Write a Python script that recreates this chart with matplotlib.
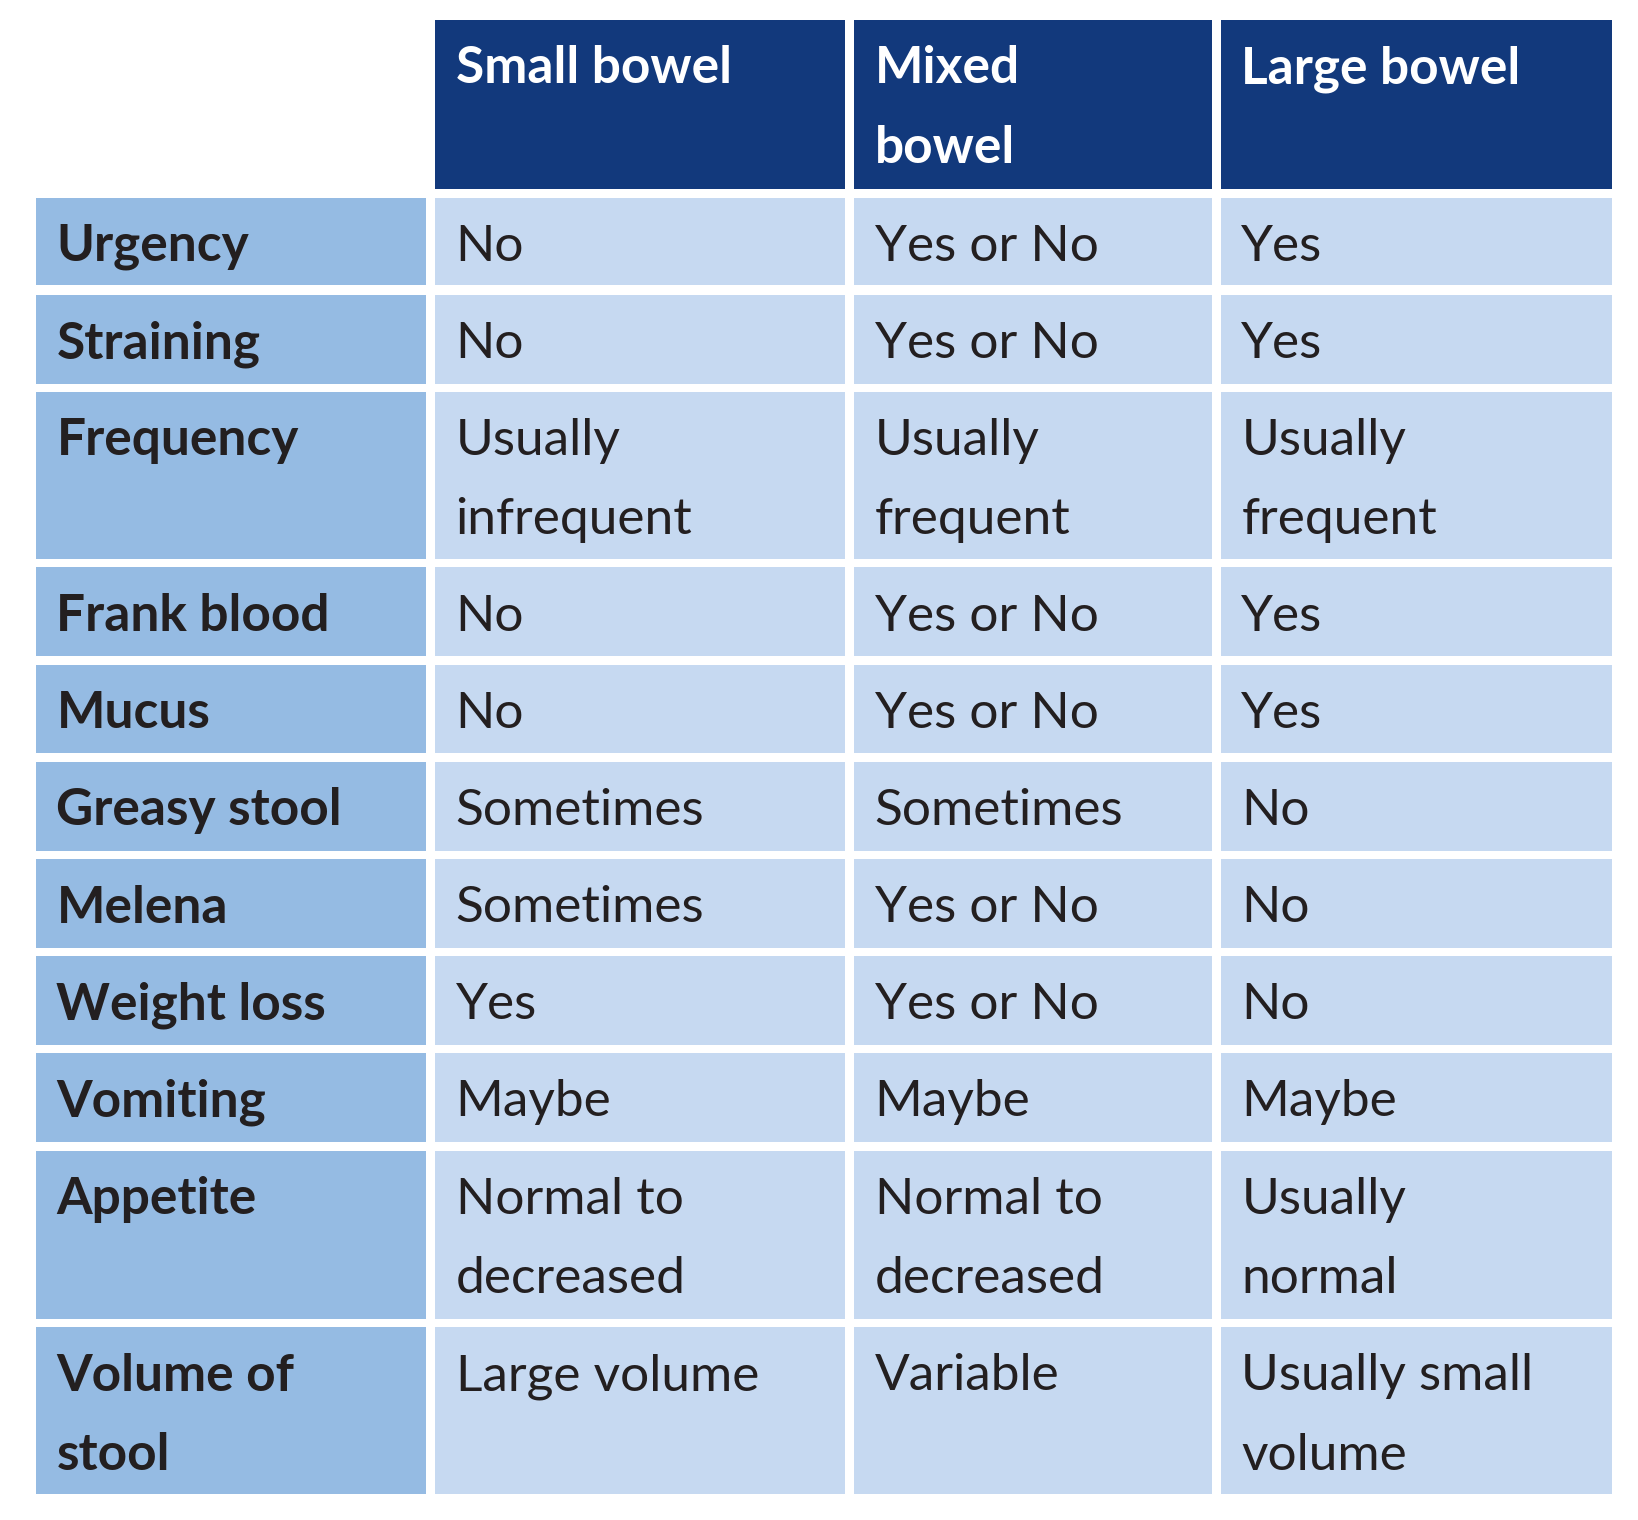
import matplotlib
matplotlib.use("Agg")
import matplotlib.pyplot as plt
from matplotlib.patches import Rectangle

headers = ["Small bowel", "Mixed\nbowel", "Large bowel"]
row_labels = ["Urgency", "Straining", "Frequency", "Frank blood", "Mucus", "Greasy stool",
              "Melena", "Weight loss", "Vomiting", "Appetite", "Volume of\nstool"]
small = ["No", "No", "Usually\ninfrequent", "No", "No", "Sometimes", "Sometimes", "Yes",
         "Maybe", "Normal to\ndecreased", "Large volume"]
mixed = ["Yes or No", "Yes or No", "Usually\nfrequent", "Yes or No", "Yes or No", "Sometimes",
         "Yes or No", "Yes or No", "Maybe", "Normal to\ndecreased", "Variable"]
large = ["Yes", "Yes", "Usually\nfrequent", "Yes", "Yes", "No", "No", "No", "Maybe",
         "Usually\nnormal", "Usually small\nvolume"]

W, H = 1638 / 1.045, 1520 / 1.045
fig = plt.figure(figsize=(16.38, 15.2), dpi=100)
ax = fig.add_axes([0, 0, 1, 1])
ax.set_xlim(0, W); ax.set_ylim(H, 0); ax.axis("off")

cols = [(34, 408), (416, 809), (817, 1160), (1168, 1543)]
rows = [(189, 273), (282, 367), (375, 535), (543, 628), (636, 721), (729, 814),
        (822, 907), (915, 1000), (1008, 1093), (1101, 1262), (1270, 1430)]
hdr = (19, 181)
NAVY, LAB, CELL, TXT = "#12397c", "#95bbe3", "#c6d9f1", "#231f20"
FS = 37
FONT = "Lato"

def cell(x0, x1, y0, y1, color, text, tcolor, bold):
    ax.add_patch(Rectangle((x0, y0), x1 - x0, y1 - y0, color=color, lw=0))
    for i, line in enumerate(text.split("\n")):
        ax.text(x0 + 20, y0 + 47 + 76 * i, line, fontsize=FS, color=tcolor, va="center",
                ha="left", family=FONT, fontweight="bold" if bold else "normal")

for (x0, x1), h in zip(cols[1:], headers):
    cell(x0, x1, hdr[0], hdr[1], NAVY, h, "white", True)
for i, (y0, y1) in enumerate(rows):
    cell(cols[0][0], cols[0][1], y0, y1, LAB, row_labels[i], TXT, True)
    for (x0, x1), data in zip(cols[1:], [small, mixed, large]):
        cell(x0, x1, y0, y1, CELL, data[i], TXT, False)

fig.savefig("out.png", dpi=100, facecolor="white")
